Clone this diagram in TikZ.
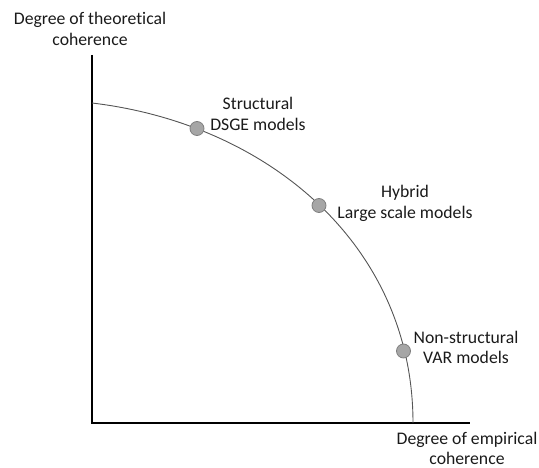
\documentclass[tikz,border=0pt]{standalone}
\usepackage{fontspec}
\setmainfont{Carlito}[Ligatures={NoCommon}]
\definecolor{curvegray}{HTML}{555555}
\definecolor{dotfill}{HTML}{A6A6A6}
\definecolor{dotdraw}{HTML}{7F7F7F}
\definecolor{textgray}{HTML}{1A1A1A}
\tikzset{
  axis/.style={draw=black, line width=1.6pt},
  frontier/.style={draw=curvegray, line width=0.9pt},
  modeldot/.style={circle, fill=dotfill, draw=dotdraw, line width=0.8pt, minimum size=14pt, inner sep=0pt},
  lbl/.style={align=center, text=textgray, inner sep=0pt, font=\fontsize{17.7}{20.5}\selectfont}
}
\begin{document}
\begin{tikzpicture}[x=1pt,y=-1pt]
\useasboundingbox (0,0) rectangle (539,468);
% axes
\coordinate (O) at (92,423);
\coordinate (ytop) at (92,55);
\coordinate (xend) at (470,423);
\draw[axis] (ytop) -- (O) -- (xend);
% frontier curve
\coordinate (cs) at (92,103);
\coordinate (ce) at (413,423);
\draw[frontier] (cs) .. controls (269,124) and (413,246) .. (ce);
% model dots
\node[modeldot] (dsge) at (197,128.5) {};
\node[modeldot] (hyb) at (319,205.5) {};
\node[modeldot] (var) at (403.5,351) {};
% labels
\node[lbl] (ylab) at (90,29) {Degree of theoretical\\coherence};
\node[lbl] (xlab) at (467,448.5) {Degree of empirical\\coherence};
\node[lbl] (ldsge) at (258,114) {Structural\\DSGE models};
\node[lbl] (lhyb) at (405,203.5) {Hybrid\\Large scale models};
\node[lbl] (lvar) at (466,347.5) {Non-structural\\VAR models};
\end{tikzpicture}
\end{document}
